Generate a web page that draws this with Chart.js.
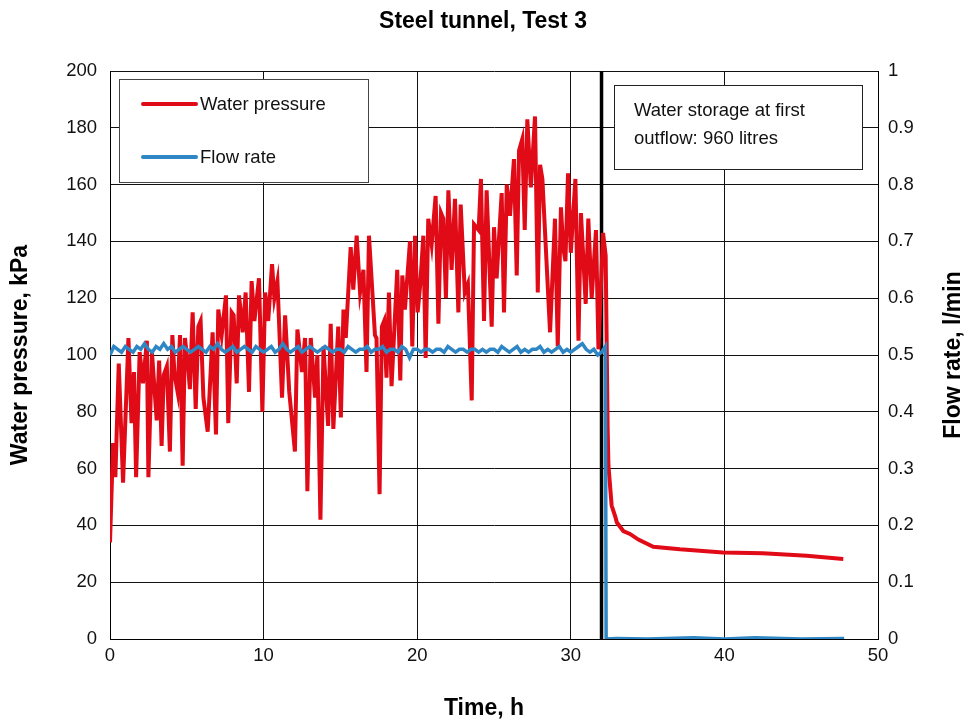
<!DOCTYPE html>
<html>
<head>
<meta charset="utf-8">
<script src="https://cdn.jsdelivr.net/npm/chart.js@4.4.0/dist/chart.umd.min.js"></script>
<style>
  html, body { margin: 0; padding: 0; background: #fff; }
  canvas { display: block; }
</style>
</head>
<body>
<canvas id="chart" width="966" height="724"></canvas>
<script>
// water pressure (kPa) against time (h)
const pressureTime = [
  0.0, 0.2, 0.35, 0.57, 0.85, 1.2, 1.4, 1.56, 1.7, 1.93, 2.15, 2.4, 2.5, 2.73, 3.04, 3.2, 3.36, 3.5, 3.7, 3.9,
  4.06, 4.2, 4.4, 4.56, 4.73, 4.88, 5.1, 5.2, 5.38, 5.58, 5.75, 5.9, 6.08, 6.36, 6.68, 6.9, 7.05, 7.27, 7.55, 7.7,
  7.92, 8.05, 8.25, 8.4, 8.64, 8.83, 9.05, 9.22, 9.4, 9.7, 9.92, 10.1, 10.3, 10.55, 10.7, 10.9, 11.2, 11.4, 11.67, 12.04,
  12.2, 12.5, 12.7, 12.85, 13.07, 13.35, 13.5, 13.7, 13.9, 14.2, 14.37, 14.54, 14.86, 15.03, 15.2, 15.35, 15.67, 15.84, 16.06, 16.28,
  16.5, 16.7, 16.86, 17.25, 17.35, 17.55, 17.7, 17.85, 18.0, 18.16, 18.33, 18.7, 18.9, 19.03, 19.2, 19.53, 19.68, 19.86, 20.03, 20.2,
  20.4, 20.55, 20.72, 20.94, 21.2, 21.38, 21.55, 21.7, 21.87, 22.03, 22.24, 22.46, 22.68, 22.83, 23.1, 23.3, 23.55, 23.7, 24.0, 24.15,
  24.35, 24.52, 24.85, 25.0, 25.17, 25.5, 25.65, 25.83, 26.04, 26.3, 26.48, 26.63, 26.84, 27.0, 27.17, 27.4, 27.67, 27.85, 28.0, 28.15,
  28.65, 28.97, 29.15, 29.36, 29.5, 29.65, 29.82, 30.0, 30.3, 30.5, 30.66, 30.97, 31.14, 31.36, 31.64, 31.8, 32.1, 32.27, 32.4, 32.45,
  32.66, 32.9, 33.0, 33.42, 33.85, 34.4, 35.37, 37.1, 39.9, 42.5, 45.36, 47.74
];
const pressure = [
  34, 69, 57, 97, 55, 106, 76, 94, 57, 101, 90, 105, 57, 101, 77, 98, 68, 93, 96, 66,
  107, 93, 87, 107, 61, 106, 95, 88, 115, 81, 110, 112, 85, 73, 108, 72, 116, 107, 121, 76,
  115, 114, 90, 121, 108, 122, 87, 126, 112, 127, 80, 122, 112, 132, 120, 126, 85, 114, 87, 66,
  109, 94, 106, 52, 106, 85, 100, 42, 103, 75, 111, 74, 110, 78, 116, 106, 138, 123, 142, 122,
  130, 94, 142, 107, 106, 51, 110, 112, 92, 122, 89, 130, 91, 128, 116, 140, 103, 142, 115, 125,
  142, 99, 148, 139, 156, 111, 150, 148, 120, 158, 130, 155, 115, 153, 122, 125, 84, 146, 144, 162,
  112, 158, 110, 145, 127, 157, 115, 160, 149, 169, 128, 172, 176, 144, 183, 159, 184, 122, 167, 162,
  108, 148, 103, 152, 138, 133, 164, 136, 162, 105, 150, 118, 148, 120, 144, 102, 143, 135, 74, 61,
  47, 43, 41, 38, 37, 35, 32.5, 31.6, 30.5, 30.2, 29.3, 28.2
];

// flow rate (l/min) against time (h)
const flowTime = [
  0, 0.25, 0.5, 0.75, 1, 1.25, 1.5, 1.75, 2, 2.25, 2.5, 2.75, 3, 3.25, 3.5, 3.75, 4, 4.25, 4.5, 4.75,
  5, 5.25, 5.5, 5.75, 6, 6.25, 6.5, 6.75, 7, 7.25, 7.5, 7.75, 8, 8.25, 8.5, 8.75, 9, 9.25, 9.5, 9.75,
  10, 10.25, 10.5, 10.75, 11, 11.25, 11.5, 11.75, 12, 12.25, 12.5, 12.75, 13, 13.25, 13.5, 13.75, 14, 14.25, 14.5, 14.75,
  15, 15.25, 15.5, 15.75, 16, 16.25, 16.5, 16.75, 17, 17.25, 17.5, 17.75, 18, 18.25, 18.5, 18.75, 19, 19.25, 19.5, 19.75,
  20, 20.25, 20.5, 20.75, 21, 21.25, 21.5, 21.75, 22, 22.25, 22.5, 22.75, 23, 23.25, 23.5, 23.75, 24, 24.25, 24.5, 24.75,
  25, 25.25, 25.5, 25.75, 26, 26.25, 26.5, 26.75, 27, 27.25, 27.5, 27.75, 28, 28.25, 28.5, 28.75, 29, 29.25, 29.5, 29.75,
  30, 30.25, 30.5, 30.75, 31, 31.25, 31.5, 31.75, 32, 32.25,
  32.3, 33, 35, 38, 40, 42, 45, 47.8
];
const flow = [
  0.50, 0.515, 0.51, 0.505, 0.515, 0.51, 0.505, 0.515, 0.51, 0.52, 0.51, 0.505, 0.515, 0.51, 0.52, 0.51, 0.515, 0.505, 0.51, 0.515,
  0.51, 0.505, 0.51, 0.515, 0.51, 0.505, 0.515, 0.51, 0.52, 0.51, 0.505, 0.51, 0.515, 0.505, 0.51, 0.515, 0.51, 0.505, 0.515, 0.51,
  0.505, 0.51, 0.515, 0.505, 0.51, 0.52, 0.51, 0.505, 0.51, 0.515, 0.505, 0.51, 0.515, 0.51, 0.505, 0.51, 0.515, 0.51, 0.505, 0.51,
  0.51, 0.505, 0.515, 0.51, 0.505, 0.51, 0.51, 0.515, 0.505, 0.51, 0.51, 0.515, 0.505, 0.51, 0.51, 0.505, 0.515, 0.51, 0.495, 0.51,
  0.51, 0.505, 0.51, 0.51, 0.505, 0.51, 0.51, 0.505, 0.515, 0.51, 0.505, 0.51, 0.51, 0.505, 0.51, 0.51, 0.505, 0.51, 0.505, 0.51,
  0.51, 0.505, 0.515, 0.51, 0.505, 0.51, 0.515, 0.505, 0.51, 0.505, 0.51, 0.51, 0.515, 0.505, 0.51, 0.505, 0.51, 0.515, 0.505, 0.51,
  0.505, 0.51, 0.515, 0.52, 0.51, 0.505, 0.51, 0.50, 0.505, 0.515,
  0, 0.001, 0, 0.002, 0, 0.002, 0, 0.001
];

// first outflow marker
const markerTime = [32.0, 32.0];
const markerLevel = [0, 200];

const FONT = '"Liberation Sans", Arial, sans-serif';
const RED = '#e10a17';
const BLUE = '#2e86c4';

const pairs = (xs, ys) => xs.map((x, i) => ({ x: x, y: ys[i] }));

const overlay = {
  id: 'overlay',
  afterDraw(chart) {
    const ctx = chart.ctx;
    const area = chart.chartArea;
    ctx.save();

    // legend box
    ctx.fillStyle = '#fff';
    ctx.strokeStyle = '#444';
    ctx.lineWidth = 1;
    ctx.fillRect(119.5, 79.5, 249, 103);
    ctx.strokeRect(119.5, 79.5, 249, 103);
    ctx.lineWidth = 4;
    ctx.lineCap = 'round';
    ctx.strokeStyle = RED;
    ctx.beginPath(); ctx.moveTo(143, 104); ctx.lineTo(196, 104); ctx.stroke();
    ctx.strokeStyle = BLUE;
    ctx.beginPath(); ctx.moveTo(143, 157); ctx.lineTo(196, 157); ctx.stroke();
    ctx.fillStyle = '#111';
    ctx.font = '18.5px ' + FONT;
    ctx.textBaseline = 'middle';
    ctx.textAlign = 'left';
    ctx.fillText('Water pressure', 200, 105);
    ctx.fillText('Flow rate', 200, 158);

    // note box
    ctx.fillStyle = '#fff';
    ctx.strokeStyle = '#222';
    ctx.lineWidth = 1;
    ctx.fillRect(614.5, 85.5, 248, 84);
    ctx.strokeRect(614.5, 85.5, 248, 84);
    ctx.fillStyle = '#111';
    ctx.fillText('Water storage at first', 634, 111);
    ctx.fillText('outflow: 960 litres', 634, 139);

    // axis titles
    ctx.fillStyle = '#000';
    ctx.font = 'bold 23px ' + FONT;
    ctx.textAlign = 'center';
    ctx.fillText('Time, h', 484, 709);
    ctx.translate(954, (area.top + area.bottom) / 2);
    ctx.rotate(-Math.PI / 2);
    ctx.fillText('Flow rate, l/min', 0, 0);
    ctx.restore();
  }
};

new Chart(document.getElementById('chart'), {
  type: 'line',
  data: {
    datasets: [
      {
        label: 'Water pressure',
        data: pairs(pressureTime, pressure),
        yAxisID: 'y',
        borderColor: RED,
        backgroundColor: RED,
        borderWidth: 4,
        pointRadius: 0,
        tension: 0,
        order: 2
      },
      {
        label: 'Flow rate',
        data: pairs(flowTime, flow),
        yAxisID: 'y1',
        borderColor: BLUE,
        backgroundColor: BLUE,
        borderWidth: 3.5,
        pointRadius: 0,
        tension: 0,
        order: 1
      },
      {
        label: 'First outflow',
        data: pairs(markerTime, markerLevel),
        yAxisID: 'y',
        borderColor: '#000',
        borderWidth: 3.5,
        pointRadius: 0,
        order: 3
      }
    ]
  },
  options: {
    responsive: false,
    animation: false,
    layout: { padding: 0 },
    plugins: {
      legend: { display: false },
      tooltip: { enabled: false },
      title: {
        display: true,
        text: 'Steel tunnel, Test 3',
        color: '#000',
        font: { family: FONT, size: 23, weight: 'bold' },
        padding: { top: 8, bottom: 35.4 }
      }
    },
    scales: {
      x: {
        type: 'linear',
        min: 0,
        max: 50,
        ticks: { stepSize: 10, color: '#111', padding: 6, font: { family: FONT, size: 18.5 } },
        grid: { color: '#111', lineWidth: 1, drawTicks: false },
        border: { color: '#000' },
        afterFit: (s) => { s.height = 85; }
      },
      y: {
        position: 'left',
        min: 0,
        max: 200,
        ticks: { stepSize: 20, color: '#111', padding: 13, font: { family: FONT, size: 18.5 } },
        grid: { color: '#111', lineWidth: 1, drawTicks: false },
        border: { color: '#000' },
        title: {
          display: true,
          text: 'Water pressure, kPa',
          color: '#000',
          font: { family: FONT, size: 23, weight: 'bold' },
          padding: { top: 7, bottom: 0 }
        },
        afterFit: (s) => { s.width = 110; }
      },
      y1: {
        position: 'right',
        min: 0,
        max: 1,
        ticks: {
          stepSize: 0.1,
          color: '#111',
          padding: 10,
          font: { family: FONT, size: 18.5 },
          callback: (v) => String(+v.toFixed(1))
        },
        grid: { drawOnChartArea: false, drawTicks: false },
        border: { color: '#000' },
        afterFit: (s) => { s.width = 88; }
      }
    }
  },
  plugins: [overlay]
});
</script>
</body>
</html>
